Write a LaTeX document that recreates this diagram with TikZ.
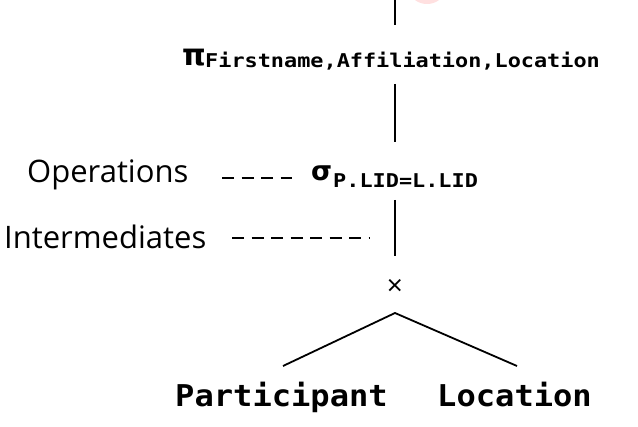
\documentclass[tikz,border=0pt]{standalone}
\usepackage{fontspec}
\setmainfont{Open Sans}
\newfontfamily\monob{DejaVu Sans Mono}[BoldFont={DejaVu Sans Mono Bold}]
\newfontfamily\greekb{DejaVu Sans}[BoldFont={DejaVu Sans Bold}]
\begin{document}
\begin{tikzpicture}[x=1pt,y=-1pt,
  lbl/.style={inner sep=0pt,anchor=base west,font=\fontsize{31}{34}\selectfont},
  mono/.style={inner sep=0pt,anchor=base west,xscale=1.07,font=\monob\bfseries\fontsize{30}{34}\selectfont},
  sub/.style={inner sep=0pt,anchor=base west,xscale=1.15,font=\monob\bfseries\fontsize{19}{22}\selectfont},
  greek/.style={inner sep=0pt,anchor=base west,font=\greekb\bfseries\fontsize{#1}{30}\selectfont},
  edge/.style={line width=1.8pt,black},
  dashline/.style={line width=1.3pt,dash pattern=on 12pt off 7.5pt}]
\useasboundingbox (0,0) rectangle (638,427);
\fill[red!12] (427,-8) ellipse (16 and 12);
% nodes
\node[greek=30] (pi) at (182,66) {π};
\node[sub] (pisub) at (205,68) {Firstname,Affiliation,Location};
\node[greek=27] (sigma) at (311,181) {σ};
\node[sub] (sigsub) at (333,188) {P.LID=L.LID};
\node[lbl] (ops) at (27,182.5) {Operations};
\node[lbl] (inter) at (4,249) {Intermediates};
\node[inner sep=0pt,font=\fontsize{28}{30}\selectfont] (cross) at (395,287) {×};
\node[mono] (part) at (175,407) {Participant};
\node[mono] (loc) at (437,407) {Location};
% coordinates
\coordinate (t0) at (395,0);
\coordinate (t1) at (395,25);
\coordinate (m0) at (395,84);
\coordinate (m1) at (395,142);
\coordinate (b0) at (395,200);
\coordinate (b1) at (395,256);
\coordinate (apex) at (395,313);
\coordinate (lend) at (283,366);
\coordinate (rend) at (517,366);
\coordinate (od0) at (222,178);
\coordinate (od1) at (292,178);
\coordinate (id0) at (232,238);
\coordinate (id1) at (370,238);
% connectors
\draw[edge] (t0) -- (t1);
\draw[edge] (m0) -- (m1);
\draw[edge] (b0) -- (b1);
\draw[edge] (lend) -- (apex) -- (rend);
\draw[dashline] (od0) -- (od1);
\draw[dashline] (id0) -- (id1);
\end{tikzpicture}
\end{document}
